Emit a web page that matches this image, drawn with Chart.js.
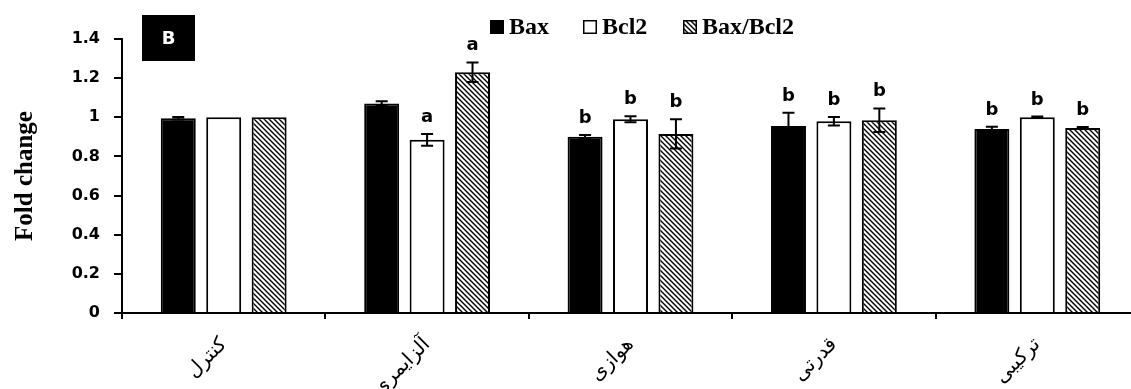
<!DOCTYPE html>
<html>
<head>
<meta charset="utf-8">
<script src="https://cdn.jsdelivr.net/npm/chart.js@4.4.1/dist/chart.umd.min.js"></script>
<style>
  html, body { margin: 0; padding: 0; background: #fff; overflow: hidden; }
  #wrap { width: 1131px; height: 389px; overflow: hidden; }
</style>
</head>
<body>
<!-- plot area runs a little past the right edge, as in the original figure -->
<div id="wrap"><canvas id="myChart" width="1139" height="389"></canvas></div>
<script>
// groups on the x axis
var groups = ['کنترل', 'آلزایمری', 'هوازی', 'قدرتی', 'ترکیبی'];

// fold change (mean)
var bax   = [0.995, 1.07, 0.90, 0.955, 0.94];
var bcl2  = [1.00, 0.885, 0.99, 0.98, 1.00];
var ratio = [1.00, 1.23, 0.915, 0.985, 0.945];

// error bars
var baxErr   = [0.006, 0.012, 0.010, 0.068, 0.012];
var bcl2Err  = [0, 0.030, 0.015, 0.022, 0.004];
var ratioErr = [0, 0.050, 0.075, 0.060, 0.005];

// significance letters
var baxSig   = ['', '', 'b', 'b', 'b'];
var bcl2Sig  = ['', 'a', 'b', 'b', 'b'];
var ratioSig = ['', 'a', 'b', 'b', 'b'];

var legendNames = ['Bax', 'Bcl2', 'Bax/Bcl2'];

var canvas = document.getElementById('myChart');
var ctx = canvas.getContext('2d');

// diagonal hatch for the ratio bars
function makeHatch() {
    var c = document.createElement('canvas');
    c.width = 5; c.height = 5;
    var g = c.getContext('2d');
    g.fillStyle = '#fff';
    g.fillRect(0, 0, 5, 5);
    g.strokeStyle = '#000';
    g.lineWidth = 1.4;
    g.beginPath();
    g.moveTo(0, 0); g.lineTo(5, 5);
    g.moveTo(-1, 4); g.lineTo(1, 6);
    g.moveTo(4, -1); g.lineTo(6, 1);
    g.stroke();
    return ctx.createPattern(c, 'repeat');
}
var hatch = makeHatch();

// error bars + letters above them
var errorBars = {
    id: 'errorBars',
    afterDatasetsDraw: function (chart) {
        var c = chart.ctx;
        var y = chart.scales.y;
        c.save();
        c.strokeStyle = '#000';
        c.lineWidth = 2;
        c.fillStyle = '#000';
        c.font = 'bold 18px "DejaVu Sans"';
        c.textAlign = 'center';
        c.textBaseline = 'alphabetic';
        chart.data.datasets.forEach(function (ds, i) {
            var meta = chart.getDatasetMeta(i);
            meta.data.forEach(function (bar, j) {
                var v = ds.data[j], e = ds.err[j];
                var top = y.getPixelForValue(v + e);
                var bot = y.getPixelForValue(v - e);
                if (e > 0) {
                    c.beginPath();
                    c.moveTo(bar.x, top); c.lineTo(bar.x, bot);
                    c.moveTo(bar.x - 6, top); c.lineTo(bar.x + 6, top);
                    c.moveTo(bar.x - 6, bot); c.lineTo(bar.x + 6, bot);
                    c.stroke();
                }
                if (ds.sig[j]) {
                    c.fillText(ds.sig[j], bar.x, top - 12);
                }
            });
        });
        c.restore();
    }
};

// legend at top and the "B" panel tag
var decorations = {
    id: 'decorations',
    afterDraw: function (chart) {
        var c = chart.ctx;
        c.save();
        // panel tag
        c.fillStyle = '#000';
        c.fillRect(142, 15, 53, 46);
        c.fillStyle = '#fff';
        c.font = 'bold 18px "DejaVu Sans"';
        c.textAlign = 'center';
        c.textBaseline = 'middle';
        c.fillText('B', 168.5, 39);

        // legend
        var xs = [490, 583, 683];
        c.font = 'bold 24px "Liberation Serif"';
        c.textAlign = 'left';
        c.textBaseline = 'alphabetic';
        chart.data.datasets.forEach(function (ds, i) {
            c.fillStyle = ds.backgroundColor;
            c.fillRect(xs[i], 20, 14, 14);
            c.strokeStyle = '#000';
            c.lineWidth = 1.5;
            c.strokeRect(xs[i] + 0.75, 20.75, 12.5, 12.5);
            c.fillStyle = '#000';
            c.fillText(legendNames[i], xs[i] + 19, 34);
        });
        c.restore();
    }
};

Chart.defaults.color = '#000';

var myChart = new Chart(ctx, {
    type: 'bar',
    data: {
        labels: groups,
        datasets: [
            { label: 'Bax', data: bax, err: baxErr, sig: baxSig,
              backgroundColor: '#000', borderColor: '#000', borderWidth: 2 },
            { label: 'Bcl2', data: bcl2, err: bcl2Err, sig: bcl2Sig,
              backgroundColor: '#fff', borderColor: '#000', borderWidth: 2 },
            { label: 'Bax/Bcl2', data: ratio, err: ratioErr, sig: ratioSig,
              backgroundColor: hatch, borderColor: '#000', borderWidth: 2 }
        ]
    },
    options: {
        responsive: false,
        animation: false,
        devicePixelRatio: 1,
        datasets: { bar: { categoryPercentage: 0.67, barPercentage: 0.77 } },
        layout: { padding: { top: 39, right: 0, left: 0, bottom: 0 } },
        plugins: {
            legend: { display: false },
            tooltip: { enabled: false }
        },
        scales: {
            x: {
                grid: { offset: true, drawOnChartArea: false, tickLength: 6, lineWidth: 2, color: '#000' },
                border: { display: true, color: '#000', width: 2 },
                ticks: {
                    maxRotation: 45, minRotation: 45, padding: 14,
                    font: { family: 'DejaVu Sans', size: 20 }
                },
                afterFit: function (scale) { scale.height = 76; }
            },
            y: {
                min: 0, max: 1.4,
                grid: { drawOnChartArea: false, tickLength: 8, lineWidth: 2, color: '#000' },
                border: { display: true, color: '#000', width: 2 },
                ticks: {
                    stepSize: 0.2, padding: 14,
                    font: { family: 'DejaVu Sans', size: 16, weight: 'bold' },
                    callback: function (v) { return String(Math.round(v * 10) / 10); }
                },
                title: {
                    display: true, text: 'Fold change',
                    font: { family: 'Liberation Serif', size: 25, weight: 'bold' },
                    padding: { top: 11, bottom: 0 }
                },
                afterFit: function (scale) { scale.width = 122; }
            }
        }
    },
    plugins: [errorBars, decorations]
});
</script>
</body>
</html>
